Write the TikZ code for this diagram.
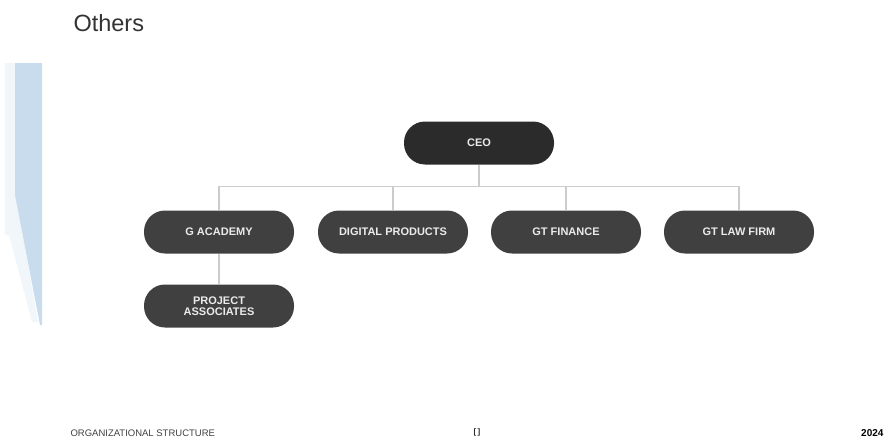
\documentclass[tikz,border=0pt]{standalone}
\usepackage{fontspec}
\setmainfont{Liberation Sans}
\definecolor{bandblue}{HTML}{C9DCEE}
\definecolor{ceogray}{HTML}{2B2B2B}
\definecolor{unitgray}{HTML}{404040}
\definecolor{linegray}{HTML}{CCCCCC}
\begin{document}
\begin{tikzpicture}[x=1pt,y=-1pt]

\tikzset{OrgBox/.style={rounded corners=21pt, fill=unitgray, text=white!92!black,
  minimum width=150pt, minimum height=43pt, inner sep=0pt, align=center,
  font=\fontsize{11}{12.5}\selectfont\bfseries}};
\tikzset{OrgLine/.style={draw=linegray, line width=1.2pt}};

\useasboundingbox (0,0) rectangle (888,439);

% side band
\fill[bandblue!25] (5,63) -- (15,63) -- (15,190) -- (38,322) -- (32,322) -- (9,235) -- (5,235) -- cycle;
\fill[bandblue] (15,63) -- (42,63) -- (42,325) -- (40,325) -- (15,195) -- cycle;

% title
\node[anchor=west, text=black!80, font=\fontsize{23.5}{26}\selectfont] (title) at (70,23) {Others};

% chart
\node[OrgBox, fill=ceogray] (ceo) at (479,143) {CEO};

\node[OrgBox] (acad) at (219,232) {G ACADEMY};
\node[OrgBox] (digi) at (393,232) {DIGITAL PRODUCTS};
\node[OrgBox] (fin) at (566,232) {GT FINANCE};
\node[OrgBox] (law) at (739,232) {GT LAW FIRM};

\node[OrgBox] (proj) at (219,306) {PROJECT\\[-1pt]ASSOCIATES};

\draw[OrgLine] (ceo.south) -- ++(0,22) coordinate (hub);
\draw[OrgLine] (acad.north) |- (hub);
\draw[OrgLine] (digi.north) |- (hub);
\draw[OrgLine] (fin.north) |- (hub);
\draw[OrgLine] (law.north) |- (hub);
\draw[OrgLine] (acad.south) -- (proj.north);

% footer
\node[anchor=west, text=black!75, font=\fontsize{9.5}{11}\selectfont] (footer) at (67,433) {ORGANIZATIONAL STRUCTURE};
\node[text=black!85, font=\fontsize{8}{9}\selectfont\bfseries] (logo) at (477,432) {[\,]};
\node[anchor=east, font=\fontsize{10}{12}\selectfont\bfseries] (year) at (887,433) {2024};

\end{tikzpicture}
\end{document}
